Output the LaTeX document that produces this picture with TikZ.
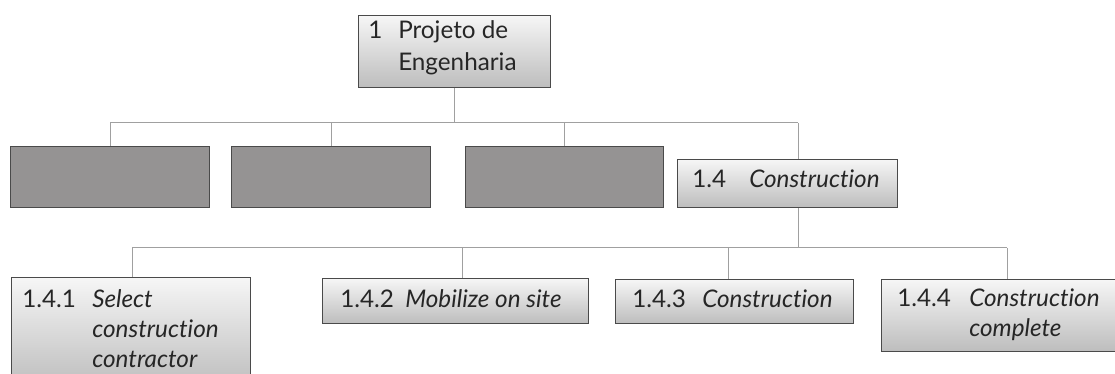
\documentclass[tikz,border=0pt]{standalone}
\usepackage{fontspec}
\setmainfont{Lato}[RawFeature={-liga}]
\definecolor{boxedge}{HTML}{4A4A4A}
\definecolor{linkgray}{HTML}{A0A0A0}
\definecolor{darkfill}{HTML}{959393}
\definecolor{gradtop}{HTML}{F6F6F6}
\definecolor{gradbot}{HTML}{BDBDBD}
\tikzset{
  wbs/.style={draw=boxedge, line width=0.75pt, top color=gradtop, bottom color=gradbot, rectangle, inner sep=0pt, anchor=north west},
  blank/.style={draw=boxedge, line width=0.9pt, fill=darkfill, rectangle, inner sep=0pt, anchor=north west},
  link/.style={draw=linkgray, line width=0.75pt},
  lbl/.style={anchor=base west, inner sep=0pt, text=black!85, font=\fontsize{18.2}{22.5}\selectfont},
}
\begin{document}
\begin{tikzpicture}[x=0.75pt, y=-0.75pt]
\useasboundingbox (0,0) rectangle (1115,374);
\clip (0,0) rectangle (1115,374);
% boxes
\node[wbs, minimum width=144pt, minimum height=54pt] (P) at (358,15) {};
\node[blank, minimum width=149.25pt, minimum height=45.75pt] (A) at (10,146) {};
\node[blank, minimum width=149.25pt, minimum height=45.75pt] (B) at (231,146) {};
\node[blank, minimum width=148.5pt, minimum height=45.75pt] (C) at (465,146) {};
\node[wbs, minimum width=165pt, minimum height=36pt] (D) at (677,159) {};
\node[wbs, minimum width=179.25pt, minimum height=82.5pt] (E) at (11,277) {};
\node[wbs, minimum width=199.5pt, minimum height=33.75pt] (F) at (322,278) {};
\node[wbs, minimum width=178.5pt, minimum height=33pt] (G) at (615,279) {};
\node[wbs, minimum width=195pt, minimum height=54pt] (H) at (881,279) {};
% texts
\node[lbl, font=\fontsize{18.2}{23.5}\selectfont] (Pt) at (368,39) {\begin{tabular}[t]{@{}p{22.5pt}@{}l@{}}1&Projeto de\\&Engenharia\end{tabular}};
\node[lbl] (Dt) at (692,188) {\begin{tabular}[t]{@{}p{42.75pt}@{}l@{}}1.4&\textit{Construction}\end{tabular}};
\node[lbl] (Et) at (22,308) {\begin{tabular}[t]{@{}p{52.5pt}@{}l@{}}1.4.1&\textit{Select}\\&\textit{construction}\\&\textit{contractor}\end{tabular}};
\node[lbl] (Ft) at (340,307) {\begin{tabular}[t]{@{}p{48.75pt}@{}l@{}}1.4.2&\textit{Mobilize on site}\end{tabular}};
\node[lbl] (Gt) at (632,307) {\begin{tabular}[t]{@{}p{52.5pt}@{}l@{}}1.4.3&\textit{Construction}\end{tabular}};
\node[lbl] (Ht) at (897,306) {\begin{tabular}[t]{@{}p{54pt}@{}l@{}}1.4.4&\textit{Construction}\\&\textit{complete}\end{tabular}};
% junctions
\coordinate (jA) at (110,123);
\coordinate (jB) at (331,123);
\coordinate (jC) at (564,123);
\coordinate (jD) at (798,123);
\coordinate (kE) at (132,248);
\coordinate (kF) at (462,248);
\coordinate (kG) at (728,248);
\coordinate (kD) at (798,248);
\coordinate (kH) at (1007,248);
% connectors
\draw[link] (jA) -- (jD);
\draw[link] (P.south) -- (P.south |- jA);
\draw[link] (jA) -- (jA |- A.north);
\draw[link] (jB) -- (jB |- B.north);
\draw[link] (jC) -- (jC |- C.north);
\draw[link] (jD) -- (jD |- D.north);
\draw[link] (kE) -- (kH);
\draw[link] (kD |- D.south) -- (kD);
\draw[link] (kE) -- (kE |- E.north);
\draw[link] (kF) -- (kF |- F.north);
\draw[link] (kG) -- (kG |- G.north);
\draw[link] (kH) -- (kH |- H.north);
\end{tikzpicture}
\end{document}
